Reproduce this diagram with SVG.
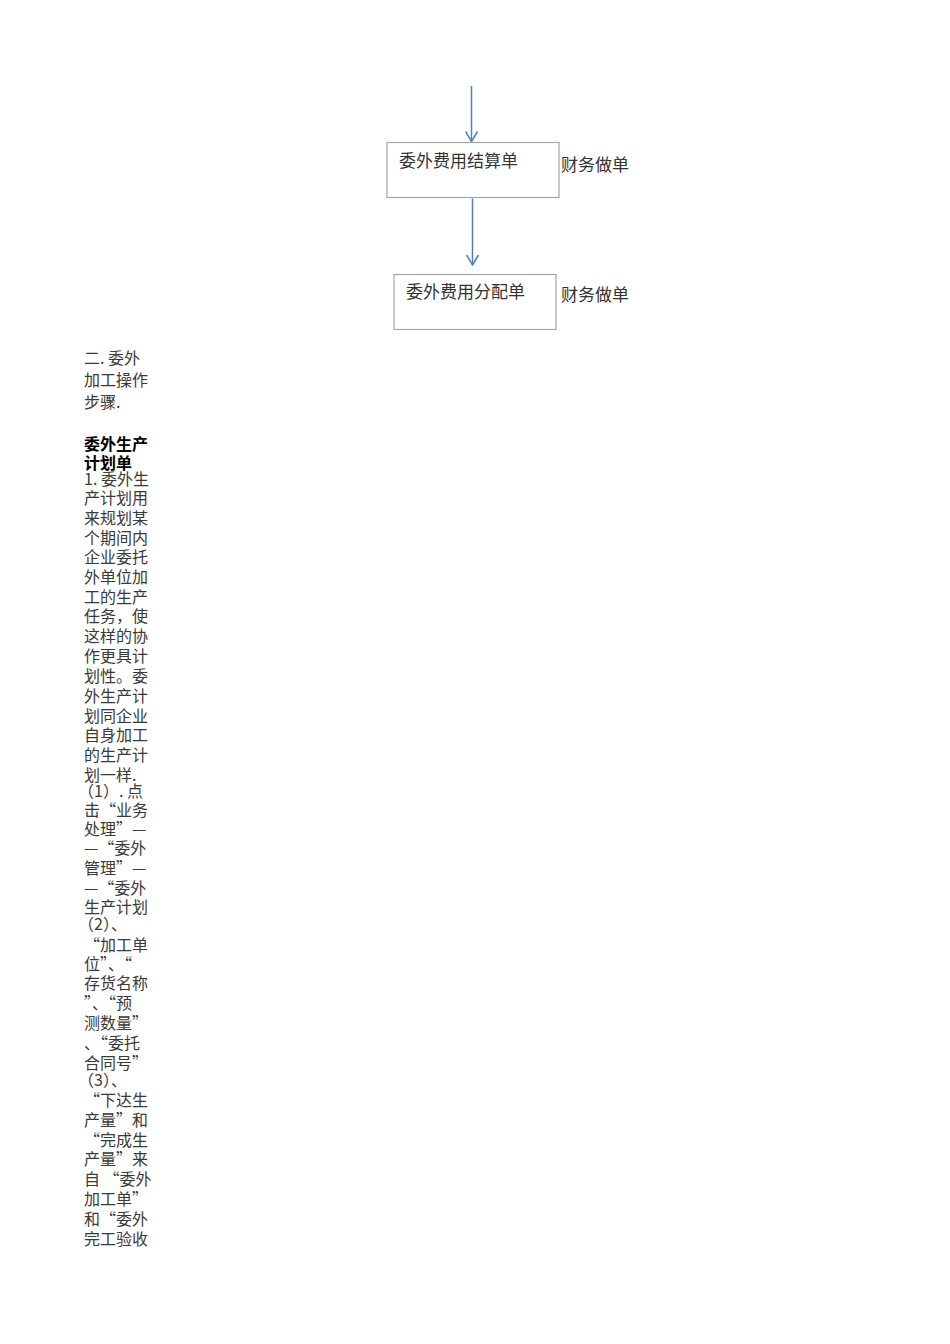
<svg xmlns="http://www.w3.org/2000/svg" width="950" height="1344" viewBox="0 0 950 1344">
<style>
  .box { fill: #ffffff; stroke: #a6a6a6; stroke-width: 1.2; }
  .lbl { font-family: "Noto Sans CJK SC", "Liberation Sans", sans-serif; font-size: 17px; fill: #333333; }
  .body { font-family: "Noto Sans CJK SC", "Liberation Serif", serif; font-size: 16px; fill: #3a3a3a; }
  .bold { font-family: "Noto Sans CJK SC", "Liberation Sans", sans-serif; font-size: 16px; font-weight: bold; fill: #000000; }
  .conn { stroke: #4f81bd; stroke-width: 1.5; fill: none; }
</style>
<defs>
  <marker id="arrow" viewBox="0 0 12 14" refX="11" refY="7" markerWidth="12" markerHeight="14" markerUnits="userSpaceOnUse" orient="auto">
    <path d="M1,1 L11,7 L1,13" fill="none" stroke="#4f81bd" stroke-width="1.5"/>
  </marker>
</defs>
<rect width="950" height="1344" fill="#ffffff"/>
<g id="connectors">
  <line class="conn" x1="471.5" y1="86" x2="471.5" y2="141.5" marker-end="url(#arrow)"/>
  <line class="conn" x1="472.5" y1="198.5" x2="472.5" y2="265" marker-end="url(#arrow)"/>
</g>
<g id="node-settlement">
  <rect class="box" x="387" y="142.5" width="172" height="55"/>
  <text class="lbl" x="399" y="166.5">委外费用结算单</text>
</g>
<g id="label-settlement">
  <text class="lbl" x="561" y="170.5">财务做单</text>
</g>
<g id="node-allocation">
  <rect class="box" x="394" y="274.5" width="162" height="55"/>
  <text class="lbl" x="406" y="298">委外费用分配单</text>
</g>
<g id="label-allocation">
  <text class="lbl" x="561" y="300.5">财务做单</text>
</g>
<g id="text-column">
  <text class="body" x="84" y="364">二. 委外</text>
  <text class="body" x="84" y="386">加工操作</text>
  <text class="body" x="84" y="408">步骤.</text>
  <text class="bold" x="84" y="450">委外生产</text>
  <text class="bold" x="84" y="469">计划单</text>
  <text class="body" x="84" y="485">1. 委外生</text>
  <text class="body" x="84" y="504">产计划用</text>
  <text class="body" x="84" y="524">来规划某</text>
  <text class="body" x="84" y="544">个期间内</text>
  <text class="body" x="84" y="563">企业委托</text>
  <text class="body" x="84" y="583">外单位加</text>
  <text class="body" x="84" y="603">工的生产</text>
  <text class="body" x="84" y="622">任务，使</text>
  <text class="body" x="84" y="642">这样的协</text>
  <text class="body" x="84" y="662">作更具计</text>
  <text class="body" x="84" y="682">划性。委</text>
  <text class="body" x="84" y="702">外生产计</text>
  <text class="body" x="84" y="722">划同企业</text>
  <text class="body" x="84" y="741">自身加工</text>
  <text class="body" x="84" y="761">的生产计</text>
  <text class="body" x="84" y="781">划一样.</text>
  <text class="body" x="78" y="797">（1）. 点</text>
  <text class="body" x="84" y="816">击“业务</text>
  <text class="body" x="84" y="835">处理”—</text>
  <text class="body" x="84" y="854">—“委外</text>
  <text class="body" x="84" y="874">管理”—</text>
  <text class="body" x="84" y="894">—“委外</text>
  <text class="body" x="84" y="913">生产计划</text>
  <text class="body" x="78" y="930">（2）、</text>
  <text class="body" x="84" y="951">“加工单</text>
  <text class="body" x="84" y="970">位”、“</text>
  <text class="body" x="84" y="989">存货名称</text>
  <text class="body" x="84" y="1009">”、“预</text>
  <text class="body" x="84" y="1029">测数量”</text>
  <text class="body" x="84" y="1049">、“委托</text>
  <text class="body" x="84" y="1069">合同号”</text>
  <text class="body" x="78" y="1086">（3）、</text>
  <text class="body" x="84" y="1106">“下达生</text>
  <text class="body" x="84" y="1126">产量”和</text>
  <text class="body" x="84" y="1146">“完成生</text>
  <text class="body" x="84" y="1165">产量”来</text>
  <text class="body" x="84" y="1185">自 “委外</text>
  <text class="body" x="84" y="1205">加工单”</text>
  <text class="body" x="84" y="1225">和“委外</text>
  <text class="body" x="84" y="1245">完工验收</text>
</g>
</svg>
